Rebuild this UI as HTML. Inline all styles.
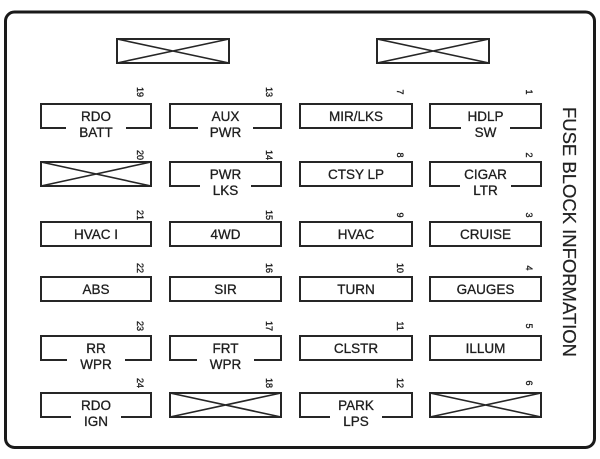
<!DOCTYPE html>
<html>
<head>
<meta charset="utf-8">
<style>
  html, body { margin:0; padding:0; background:#fff; }
  svg { display:block; }
  .t { font-family:"Liberation Sans", Arial, sans-serif; font-size:13.5px; fill:#1e1e1e; stroke:#1e1e1e; stroke-width:0.3; text-anchor:middle; }
  .n { font-family:"Liberation Sans", Arial, sans-serif; font-size:9px; fill:#1e1e1e; stroke:#1e1e1e; stroke-width:0.35; text-anchor:middle; }
  .b { fill:none; stroke:#262626; stroke-width:2; }
  .x { fill:none; stroke:#262626; stroke-width:1.6; }
</style>
</head>
<body>
<svg width="600" height="459" viewBox="0 0 600 459" xmlns="http://www.w3.org/2000/svg">
  <rect x="0" y="0" width="600" height="459" fill="#fff"/>
  <!-- outer frame -->
  <rect x="5.5" y="12" width="589" height="435.5" rx="9" ry="9" fill="#fff" stroke="#1a1a1a" stroke-width="3"/>

  <!-- top relay boxes -->
  <rect class="b" x="117" y="39" width="112" height="24"/>
  <path class="x" d="M117 39 L229 63 M117 63 L229 39"/>
  <rect class="b" x="377" y="39" width="112" height="24"/>
  <path class="x" d="M377 39 L489 63 M377 63 L489 39"/>

  <!-- ROW 1 (y=104) -->
  <path class="b" d="M66 128 L41 128 L41 104 L151 104 L151 128 L126 128"/>
  <text class="t" x="96" y="121">RDO</text>
  <text class="t" x="96" y="137">BATT</text>

  <path class="b" d="M198 128 L170 128 L170 104 L281 104 L281 128 L253 128"/>
  <text class="t" x="225.5" y="121">AUX</text>
  <text class="t" x="225.5" y="137">PWR</text>

  <rect class="b" x="300" y="104" width="112" height="24"/>
  <text class="t" x="356" y="121">MIR/LKS</text>

  <path class="b" d="M461 128 L430 128 L430 104 L541 104 L541 128 L510 128"/>
  <text class="t" x="485.5" y="121">HDLP</text>
  <text class="t" x="485.5" y="137">SW</text>

  <!-- ROW 2 (y=162) -->
  <rect class="b" x="41" y="162" width="110" height="24"/>
  <path class="x" d="M41 162 L151 186 M41 186 L151 162"/>

  <path class="b" d="M200 186 L170 186 L170 162 L281 162 L281 186 L251 186"/>
  <text class="t" x="225.5" y="179">PWR</text>
  <text class="t" x="225.5" y="195">LKS</text>

  <rect class="b" x="300" y="162" width="112" height="24"/>
  <text class="t" x="356" y="179">CTSY LP</text>

  <path class="b" d="M460 186 L430 186 L430 162 L541 162 L541 186 L511 186"/>
  <text class="t" x="485.5" y="179">CIGAR</text>
  <text class="t" x="485.5" y="195">LTR</text>

  <!-- ROW 3 (y=222) -->
  <rect class="b" x="41" y="222" width="110" height="24"/>
  <text class="t" x="96" y="239">HVAC I</text>
  <rect class="b" x="170" y="222" width="111" height="24"/>
  <text class="t" x="225.5" y="239">4WD</text>
  <rect class="b" x="300" y="222" width="112" height="24"/>
  <text class="t" x="356" y="239">HVAC</text>
  <rect class="b" x="430" y="222" width="111" height="24"/>
  <text class="t" x="485.5" y="239">CRUISE</text>

  <!-- ROW 4 (y=277) -->
  <rect class="b" x="41" y="277" width="110" height="24"/>
  <text class="t" x="96" y="294">ABS</text>
  <rect class="b" x="170" y="277" width="111" height="24"/>
  <text class="t" x="225.5" y="294">SIR</text>
  <rect class="b" x="300" y="277" width="112" height="24"/>
  <text class="t" x="356" y="294">TURN</text>
  <rect class="b" x="430" y="277" width="111" height="24"/>
  <text class="t" x="485.5" y="294">GAUGES</text>

  <!-- ROW 5 (y=336) -->
  <path class="b" d="M67 360 L41 360 L41 336 L151 336 L151 360 L125 360"/>
  <text class="t" x="96" y="353">RR</text>
  <text class="t" x="96" y="369">WPR</text>

  <path class="b" d="M197 360 L170 360 L170 336 L281 336 L281 360 L254 360"/>
  <text class="t" x="225.5" y="353">FRT</text>
  <text class="t" x="225.5" y="369">WPR</text>

  <rect class="b" x="300" y="336" width="112" height="24"/>
  <text class="t" x="356" y="353">CLSTR</text>
  <rect class="b" x="430" y="336" width="111" height="24"/>
  <text class="t" x="485.5" y="353">ILLUM</text>

  <!-- ROW 6 (y=393) -->
  <path class="b" d="M71 417 L41 417 L41 393 L151 393 L151 417 L121 417"/>
  <text class="t" x="96" y="410">RDO</text>
  <text class="t" x="96" y="426">IGN</text>

  <rect class="b" x="170" y="393" width="111" height="24"/>
  <path class="x" d="M170 393 L281 417 M170 417 L281 393"/>

  <path class="b" d="M330 417 L300 417 L300 393 L412 393 L412 417 L382 417"/>
  <text class="t" x="356" y="410">PARK</text>
  <text class="t" x="356" y="426">LPS</text>

  <rect class="b" x="430" y="393" width="111" height="24"/>
  <path class="x" d="M430 393 L541 417 M430 417 L541 393"/>

  <!-- fuse numbers (rotated) -->
  <g>
    <text class="n" transform="translate(136.8,92) rotate(90)">19</text>
    <text class="n" transform="translate(265.8,92) rotate(90)">13</text>
    <text class="n" transform="translate(396.8,92) rotate(90)">7</text>
    <text class="n" transform="translate(525.8,92) rotate(90)">1</text>

    <text class="n" transform="translate(136.8,155) rotate(90)">20</text>
    <text class="n" transform="translate(265.8,155) rotate(90)">14</text>
    <text class="n" transform="translate(396.8,155) rotate(90)">8</text>
    <text class="n" transform="translate(525.8,155) rotate(90)">2</text>

    <text class="n" transform="translate(136.8,215) rotate(90)">21</text>
    <text class="n" transform="translate(265.8,215) rotate(90)">15</text>
    <text class="n" transform="translate(396.8,215) rotate(90)">9</text>
    <text class="n" transform="translate(525.8,215) rotate(90)">3</text>

    <text class="n" transform="translate(136.8,268) rotate(90)">22</text>
    <text class="n" transform="translate(265.8,268) rotate(90)">16</text>
    <text class="n" transform="translate(396.8,268) rotate(90)">10</text>
    <text class="n" transform="translate(525.8,268) rotate(90)">4</text>

    <text class="n" transform="translate(136.8,326) rotate(90)">23</text>
    <text class="n" transform="translate(265.8,326) rotate(90)">17</text>
    <text class="n" transform="translate(396.8,326) rotate(90)">11</text>
    <text class="n" transform="translate(525.8,326) rotate(90)">5</text>

    <text class="n" transform="translate(136.8,383) rotate(90)">24</text>
    <text class="n" transform="translate(265.8,383) rotate(90)">18</text>
    <text class="n" transform="translate(396.8,383) rotate(90)">12</text>
    <text class="n" transform="translate(525.8,383) rotate(90)">6</text>
  </g>

  <!-- side title -->
  <text transform="translate(563,107) rotate(90)" x="0" y="0" font-family="Liberation Sans, Arial, sans-serif" font-size="18" fill="#222" stroke="#222" stroke-width="0.2" textLength="250" lengthAdjust="spacingAndGlyphs">FUSE BLOCK INFORMATION</text>
</svg>
</body>
</html>
